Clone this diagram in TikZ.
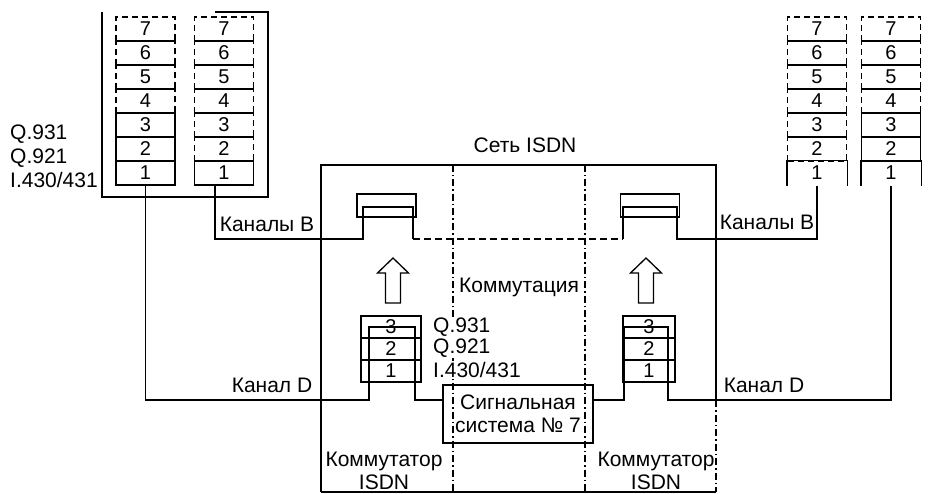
\documentclass[tikz,border=0pt]{standalone}
\usepackage{fontspec}
\setmainfont{Liberation Sans}
\usetikzlibrary{calc}
\tikzset{
    layer/.style={draw, line width=1.3pt, minimum width=59pt, minimum height=24pt, inner sep=0pt, font=\fontsize{20}{20}\selectfont},
    dlayer/.style={layer, line width=1.1pt, dash pattern=on 6pt off 4pt},
    openlayer/.style={layer, draw=none},
    swlayer/.style={layer, minimum width=60pt, minimum height=22pt},
    contact/.style={draw, line width=1.3pt, minimum width=59pt, minimum height=23pt, inner sep=0pt},
    sigbox/.style={draw, line width=1.3pt, minimum width=150pt, minimum height=58pt, inner sep=0pt, align=center, font=\fontsize{21}{23}\selectfont},
    wire/.style={line width=1.3pt},
    frame/.style={line width=1.3pt},
    zone/.style={line width=1.1pt, dash pattern=on 7pt off 3pt on 1.5pt off 3pt},
    lbl/.style={inner sep=0pt, font=\fontsize{21}{23}\selectfont},
    pics/blockup/.style={code={
        \draw[line width=1.3pt] (-7.5,22.5) -- (-7.5,-7.5) -- (-15.5,-7.5) -- (0,-22.5)
            -- (15.5,-7.5) -- (7.5,-7.5) -- (7.5,22.5) -- cycle;
    }},
    common settings/.style={x=1pt, y=-1pt}
}

\begin{document}
\begin{tikzpicture}[common settings]
    \useasboundingbox (0,0) rectangle (933,494);

    % Left terminal: frame and two stacks
    \draw[frame] (102,12) |- (268,197) -- (268,12) -- (215,12);
    \foreach \k/\st in {1/layer,2/layer,3/layer,4/dlayer,5/dlayer,6/dlayer,7/dlayer}
        \node[\st] (ta\k) at (145.5,{173-(\k-1)*24}) {\k};
    \foreach \k/\st in {1/layer,2/dlayer,3/dlayer,4/dlayer,5/dlayer,6/dlayer,7/dlayer}
        \node[\st] (tb\k) at (224,{173-(\k-1)*24}) {\k};
    \node[lbl, anchor=west] (qa3) at (10,134) {Q.931};
    \node[lbl, anchor=west] (qa2) at (10,158) {Q.921};
    \node[lbl, anchor=west] (qa1) at (10,180) {I.430/431};

    % Right terminal: two stacks, open at the bottom
    \foreach \k/\st in {1/openlayer,2/dlayer,3/dlayer,4/dlayer,5/dlayer,6/dlayer,7/dlayer}
        \node[\st] (tc\k) at (817,{173-(\k-1)*24}) {\k};
    \foreach \k/\st in {1/openlayer,2/layer,3/layer,4/dlayer,5/dlayer,6/dlayer,7/dlayer}
        \node[\st] (td\k) at (891,{173-(\k-1)*24}) {\k};
    \draw[wire] (tc1.south west) |- (tc1.north east) -- (tc1.south east);
    \draw[wire] (td1.south west) |- (td1.north east) -- (td1.south east);

    % ISDN network and its zones
    \draw[frame] (321,492) -- (321,165) -- (716,165) -- (716,400);
    \draw[zone] (716,400) -- (716,492);
    \draw[frame] (321,492) -- (716,492);
    \draw[zone] (453,165) -- (453,492);
    \draw[zone] (585,165) -- (585,492);
    \node[lbl] (net) at (525,145) {Сеть ISDN};
    \node[lbl] (comm) at (519,287) {Коммутация};
    \node[lbl, align=center] (swa) at (384,471) {Коммутатор\\ISDN};
    \node[lbl, align=center] (swb) at (656,471) {Коммутатор\\ISDN};

    % Switch contacts and arrows
    \node[contact] (ka) at (386.5,205.5) {};
    \node[contact] (kb) at (650,205.5) {};
    \pic (ua) at (393,280.5) {blockup};
    \pic (ub) at (646,280.5) {blockup};

    % Switch stacks
    \foreach \k in {1,2,3}
        \node[swlayer] (sa\k) at (391,{371-(\k-1)*22}) {\k};
    \foreach \k in {1,2,3}
        \node[swlayer, minimum width=52pt] (sb\k) at (649,{371-(\k-1)*22}) {\k};
    \node[lbl, anchor=west, fill=white, inner sep=1pt] (qs3) at (432,327) {Q.931};
    \node[lbl, anchor=west, fill=white, inner sep=1pt] (qs2) at (432,348) {Q.921};
    \node[lbl, anchor=west, fill=white, inner sep=1pt] (qs1) at (432,370) {I.430/431};

    % Signalling system No 7
    \node[sigbox] (ss7) at (518,414) {Сигнальная\\система № 7};

    % B channels
    \coordinate (bA) at (363,239);
    \coordinate (bB) at (413,239);
    \coordinate (bC) at (623,239);
    \coordinate (bD) at (677,239);
    \draw[wire] ([xshift=-9pt]tb1.south) |- (bA) -- ++(0,-32) -| (bB);
    \draw[wire, dash pattern=on 7pt off 4pt] (bB) -- (bC);
    \draw[wire] (bC) -- ++(0,-32) -| (bD) -| (tc1.south);
    \node[lbl] (kbl) at (267,224) {Каналы B};
    \node[lbl] (kbr) at (767,222) {Каналы B};

    % D channel
    \coordinate (dA) at (369,400);
    \coordinate (dB) at (415,400);
    \coordinate (dC) at (624,400);
    \coordinate (dD) at (668,400);
    \draw[wire] (ta1.south) |- (dA) -- ++(0,-73) -| (dB) -- (ss7.west |- dB);
    \draw[wire] (ss7.east |- dC) -- (dC) -- ++(0,-73) -| (dD) -| (td1.south);
    \node[lbl] (kdl) at (272,385) {Канал D};
    \node[lbl] (kdr) at (764,385) {Канал D};

\end{tikzpicture}
\end{document}
